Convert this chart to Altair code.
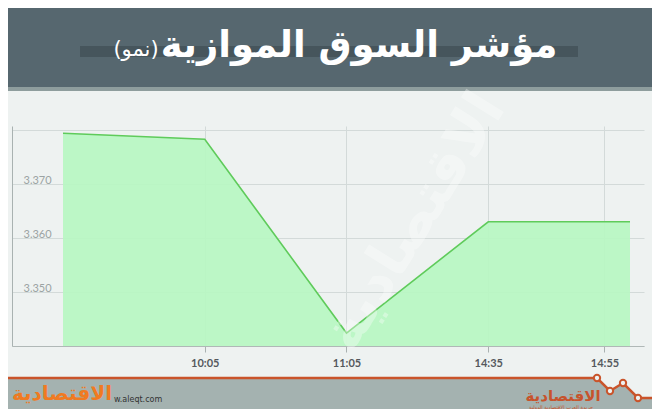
import altair as alt
import pandas as pd

# ---- data ----
x_pos = [0, 1, 2, 3, 4]
values = [3.3794, 3.3783, 3.3424, 3.3630, 3.3630]
tick_pos = [1, 2, 3, 3.82]
tick_labels = ["10:05", "11:05", "14:35", "14:55"]
y_ticks = [3.34, 3.35, 3.36, 3.37, 3.38]
y_base = 3.34
title_main = "مؤشر السوق الموازية"
title_sub = "(نمو)"
logo_text = "الاقتصادية"

df = pd.DataFrame({"x": x_pos, "v": values})
one = pd.DataFrame({"a": [0]})

# footer zigzag (decoration, pixel coordinates in plot space)
zig = pd.DataFrame({
    "px": [-12, 585, 598, 611, 626, 648],
    "py": [252, 252, 265, 257, 272, 272],
    "bot": [300] * 6,
})
zig_pts = zig.iloc[1:5]

W, H = 632, 220
x_dom = [-51 / 141.75, (W - 51) / 141.75]
y_dom = [3.340, 3.340 + H / 5400]

x_expr = " : ".join(
    [f"abs(datum.value - {p}) < 0.01 ? '{l}'" for p, l in zip(tick_pos, tick_labels)]
) + " : ''"

BG = "#EEF2F1"

header = alt.Chart(one).mark_rect(color="#56676F").encode(
    x=alt.value(-12), x2=alt.value(648), y=alt.value(-126), y2=alt.value(-39))
strip = alt.Chart(one).mark_rect(color="#8E9D9D").encode(
    x=alt.value(-12), x2=alt.value(648), y=alt.value(-39), y2=alt.value(-35))
tbar = alt.Chart(one).mark_rect(color="#46555C").encode(
    x=alt.value(68), x2=alt.value(566), y=alt.value(-80), y2=alt.value(-69))
t1 = alt.Chart(one).mark_text(
    text=title_main, font="DejaVu Sans", fontWeight="bold", fontSize=37,
    color="white", baseline="middle", align="center").encode(
    x=alt.value(347), y=alt.value(-80))
t2 = alt.Chart(one).mark_text(
    text=title_sub, font="DejaVu Sans", fontSize=21,
    color="white", baseline="middle", align="center").encode(
    x=alt.value(124), y=alt.value(-76))

foot_area = alt.Chart(zig).mark_area(color="#A4B2B0", orient="vertical").encode(
    x=alt.X("px:Q", scale=None), y=alt.Y("py:Q", scale=None), y2="bot:Q")
foot_line = alt.Chart(zig).mark_line(color="#C9542B", strokeWidth=2.5).encode(
    x=alt.X("px:Q", scale=None), y=alt.Y("py:Q", scale=None))
foot_pts = alt.Chart(zig_pts).mark_point(
    shape="circle", size=40, filled=True, fill=BG, stroke="#C9542B",
    strokeWidth=2, opacity=1).encode(
    x=alt.X("px:Q", scale=None), y=alt.Y("py:Q", scale=None))

logo_l = alt.Chart(one).mark_text(
    text=logo_text, font="DejaVu Sans", fontWeight="bold", fontSize=20,
    color="#F07A22", baseline="middle", align="center").encode(
    x=alt.value(50), y=alt.value(268))
url = alt.Chart(one).mark_text(
    text="w.aleqt.com", font="DejaVu Sans", fontSize=8,
    color="#333333", baseline="middle", align="left").encode(
    x=alt.value(102), y=alt.value(274))
logo_r = alt.Chart(one).mark_text(
    text=logo_text, font="DejaVu Sans", fontWeight="bold", fontSize=15,
    color="#C7532C", baseline="middle", align="center").encode(
    x=alt.value(551), y=alt.value(270))
logo_r2 = alt.Chart(one).mark_text(
    text="جريدة العرب الاقتصادية الدولية", font="DejaVu Sans", fontSize=5,
    color="#C7532C", baseline="middle", align="center").encode(
    x=alt.value(549), y=alt.value(281))

xs = alt.Scale(domain=x_dom, nice=False, zero=False)
ys = alt.Scale(domain=y_dom, nice=False, zero=False)

area = alt.Chart(df).mark_area(color="#B7F7C2", opacity=0.92, clip=True).encode(
    x=alt.X("x:Q", scale=xs, axis=alt.Axis(
        values=tick_pos, labelExpr=x_expr, title=None, grid=True,
        gridColor="#D3DAD9", domainColor="#B0B8B7", tickColor="#A9B1B0",
        tickSize=6, labelPadding=5, labelFont="Lato", labelFontWeight="bold",
        labelFontSize=11, labelColor="#55595D")),
    y=alt.Y("v:Q", scale=ys, axis=alt.Axis(
        values=y_ticks, title=None, grid=True, gridColor="#D3DAD9",
        domainColor="#A9B2B1", ticks=False, tickSize=0,
        labelAlign="left", labelPadding=-11, labelBaseline="alphabetic",
        labelOffset=-1, labelFont="Lato", labelFontSize=11,
        labelColor="#9BA3A3",
        labelExpr="datum.value < 3.345 || datum.value > 3.375 ? '' : format(datum.value, '.3f')")),
    y2=alt.datum(y_base),
)
line = alt.Chart(df).mark_line(color="#5FCB5B", strokeWidth=1.6).encode(
    x=alt.X("x:Q", scale=xs), y=alt.Y("v:Q", scale=ys))

wm = alt.Chart(one).mark_text(
    text=logo_text, font="DejaVu Sans", fontWeight="bold", fontSize=58,
    color="white", opacity=0.35, angle=302, baseline="middle", align="center").encode(
    x=alt.value(403), y=alt.value(96))

chart = alt.layer(
    header, strip, tbar, t1, t2, foot_area, foot_line, foot_pts,
    logo_l, url, logo_r, logo_r2, area, line, wm
).properties(
    width=W, height=H,
    padding={"left": 4, "top": 118, "right": 8, "bottom": 63},
    autosize=alt.AutoSizeParams(type="none"),
    background=BG,
).configure_view(stroke=None)

chart.save("out.html", embed_options={"renderer": "svg", "actions": False})
